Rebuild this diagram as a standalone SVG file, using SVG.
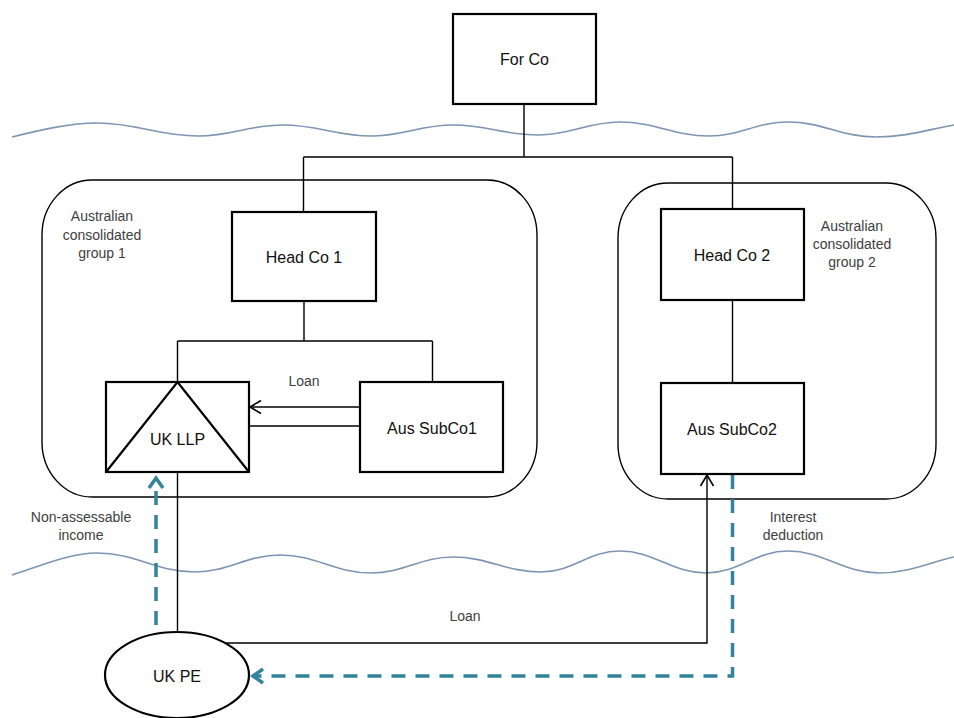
<svg xmlns="http://www.w3.org/2000/svg" width="954" height="718" viewBox="0 0 954 718">
<defs>
<style>
.box{fill:#fff;stroke:#000;stroke-width:2.2}
.grp{fill:none;stroke:#000;stroke-width:1.4}
.ln{fill:none;stroke:#000;stroke-width:1.4}
.wave{fill:none;stroke:#7d94b3;stroke-width:1.6}
.tl{fill:none;stroke:#31849b;stroke-width:3.5;stroke-dasharray:14 10}
.lbl{font-family:"Liberation Sans",Arial,sans-serif;font-size:16px;fill:#111;text-anchor:middle;dominant-baseline:central}
.sm{font-family:"Liberation Sans",Arial,sans-serif;font-size:14px;fill:#404040;text-anchor:middle}
</style>
<marker id="ab" markerUnits="userSpaceOnUse" markerWidth="20" markerHeight="20" viewBox="-14 -10 16 20" refX="0" refY="0" orient="auto">
<path d="M-11,-6.5 L0,0 L-11,6.5" fill="none" stroke="#000" stroke-width="1.6"/>
</marker>
<marker id="at" markerUnits="userSpaceOnUse" markerWidth="24" markerHeight="24" viewBox="-16 -12 20 24" refX="0" refY="0" orient="auto">
<path d="M-10,-7 L0,0 L-10,7" fill="none" stroke="#31849b" stroke-width="3.5"/>
</marker>
</defs>
<rect width="954" height="718" fill="#fff"/>

<g id="waves">
<path class="wave" d="M12,137 C40,130 70,123 97,123 C137,123 158,136 198,136 C232,136 249,125 283,125 C318,125 336,136 371,136 C404,136 420,125 453,125 C487,125 504,135 538,135 C571,135 587,122 620,122 C656,122 673,136 709,136 C741,136 756,122 788,122 C823,122 841,137 876,137 C907,137 930,129 954,125"/>
<path class="wave" d="M12,575 C40,566 70,553 97,553 C136,553 156,572 195,572 C229,572 246,555 280,555 C316,555 335,573 371,573 C404,573 420,557 453,557 C488,557 506,572 541,572 C573,572 588,551 620,551 C654,551 672,573 706,573 C739,573 755,551 788,551 C824,551 843,573 879,573 C909,573 930,562 954,557"/>
</g>

<g id="group1">
<rect class="grp" x="42" y="180" width="495" height="317" rx="50" ry="55"/>
<text class="sm"><tspan x="102" y="221">Australian</tspan><tspan x="102" y="240">consolidated</tspan><tspan x="102" y="258">group 1</tspan></text>
</g>
<g id="group2">
<rect class="grp" x="618" y="183" width="318" height="316" rx="50" ry="55"/>
<text class="sm"><tspan x="852" y="231">Australian</tspan><tspan x="852" y="249">consolidated</tspan><tspan x="852" y="267">group 2</tspan></text>
</g>

<g id="connectors">
<path class="ln" d="M524,104 V157 M303.5,157 H732.5 M303.5,157 V212 M732.5,157 V209"/>
<path class="ln" d="M304,301 V341 M177.5,341 H432.5 M177.5,341 V382 M432.5,341 V382"/>
<path class="ln" d="M732.5,300 V383"/>
<path class="ln" d="M360,407 H250" marker-end="url(#ab)"/>
<path class="ln" d="M249,426 H360"/>
<path class="ln" d="M177.5,472 V632"/>
<path class="ln" d="M226,643 H707 V475" marker-end="url(#ab)"/>
<path class="tl" d="M732.5,475 V676 H253" marker-end="url(#at)"/>
<path class="tl" d="M156,625 V478" marker-end="url(#at)"/>
<text class="sm" x="304" y="386">Loan</text>
<text class="sm" x="465" y="621">Loan</text>
<text class="sm"><tspan x="81" y="522">Non-assessable</tspan><tspan x="81" y="540">income</tspan></text>
<text class="sm"><tspan x="793" y="522">Interest</tspan><tspan x="793" y="540">deduction</tspan></text>
</g>

<g id="forco">
<rect class="box" x="453" y="14" width="143" height="90"/>
<text class="lbl" x="524.5" y="59">For Co</text>
</g>
<g id="headco1">
<rect class="box" x="232" y="212" width="144" height="89"/>
<text class="lbl" x="304" y="257">Head Co 1</text>
</g>
<g id="headco2">
<rect class="box" x="661" y="209" width="143" height="91"/>
<text class="lbl" x="732" y="255">Head Co 2</text>
</g>
<g id="ukllp">
<rect class="box" x="106" y="382" width="143" height="90"/>
<path d="M106,472 L177.5,382 L249,472" fill="none" stroke="#000" stroke-width="2.2"/>
<text class="lbl" x="177.5" y="439">UK LLP</text>
</g>
<g id="aussubco1">
<rect class="box" x="360" y="382" width="143" height="90"/>
<text class="lbl" x="432" y="428">Aus SubCo1</text>
</g>
<g id="aussubco2">
<rect class="box" x="661" y="383" width="143" height="91"/>
<text class="lbl" x="732" y="429">Aus SubCo2</text>
</g>
<g id="ukpe">
<ellipse cx="177" cy="675" rx="72" ry="43" fill="#fff" stroke="#000" stroke-width="2.2"/>
<text class="lbl" x="177" y="676">UK PE</text>
</g>
</svg>
